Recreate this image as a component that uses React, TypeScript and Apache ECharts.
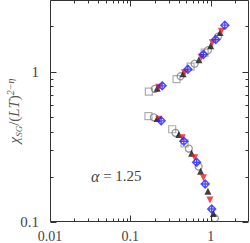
import React, { useEffect, useRef } from "react";
import * as echarts from "echarts";

// Tick values and labels
const xTicks = [0.01, 0.1, 1];
const xTickLabels = ["0.01", "0.1", "1"];
const yTicks = [0.1, 1];
const yTickLabels = ["0.1", "1"];
const minorMultipliers = [2, 3, 4, 5, 6, 7, 8, 9];

// Series data [x, y]
const squares: number[][] = [
  [0.170, 0.738], [0.376, 0.893], [0.562, 1.08], [0.841, 1.34],
  [0.168, 0.507], [0.332, 0.414], [0.473, 0.334],
];
const circles: number[][] = [
  [0.202, 0.769], [0.422, 0.933], [0.631, 1.13], [0.925, 1.39], [1.23, 1.71],
  [0.196, 0.497], [0.365, 0.392], [0.535, 0.308], [0.708, 0.234], [1.13, 0.106],
];
const triangles: number[][] = [
  [0.216, 0.775], [0.453, 0.970], [0.714, 1.20], [1.0, 1.49], [1.31, 1.82],
  [0.216, 0.489], [0.402, 0.382], [0.579, 0.287], [0.750, 0.218], [0.925, 0.160], [1.08, 0.114],
];
const invTriangles: number[][] = [
  [0.226, 0.787], [0.473, 0.985], [0.765, 1.25], [1.05, 1.56], [1.36, 1.86],
  [0.226, 0.482], [0.443, 0.364], [0.631, 0.268], [0.811, 0.197], [0.98, 0.140],
];
const diamonds: number[][] = [
  [0.249, 0.805], [0.520, 1.04], [0.811, 1.30], [1.155, 1.64], [1.50, 2.04],
  [0.242, 0.471], [0.464, 0.344], [0.668, 0.250], [0.854, 0.179], [1.03, 0.122],
];

const TEXT = "#444";
const NAMECOL = "#555";
const FONT = "'Liberation Serif', 'DejaVu Serif', serif";

function fmt(ticks: number[], labels: string[]) {
  return (v: number) => {
    for (let i = 0; i < ticks.length; i++) {
      if (Math.abs(Math.log10(v) - Math.log10(ticks[i])) < 1e-6) return labels[i];
    }
    return "";
  };
}

function allMinor(min: number, max: number) {
  const out: number[] = [];
  for (let e = Math.floor(Math.log10(min)); e <= Math.ceil(Math.log10(max)); e++) {
    for (const m of minorMultipliers) {
      const v = m * Math.pow(10, e);
      if (v > min && v < max) out.push(v);
    }
  }
  return out;
}

export default function App() {
  const ref = useRef<HTMLDivElement>(null);
  useEffect(() => {
    if (!ref.current) return;
    const chart = echarts.init(ref.current, null, { renderer: "svg" });
    const xMin = 0.01, xMax = 3, yMin = 0.1, yMax = 3;
    const xMinor = allMinor(xMin, xMax);
    const yMinor = allMinor(yMin, yMax);

    const renderTicks = (params: any, api: any) => {
      const cs = params.coordSys;
      const children: any[] = [];
      const st = { stroke: "#333", lineWidth: 1 };
      const L = Math.round(cs.x) + 0.5, R = Math.round(cs.x + cs.width) - 0.5;
      const T = Math.round(cs.y) + 0.5, B = Math.round(cs.y + cs.height) - 0.5;
      children.push({ type: "rect", shape: { x: L, y: T, width: R - L, height: B - T }, style: { fill: "none", stroke: "#333", lineWidth: 1 } });
      const addX = (v: number, len: number) => {
        const px = Math.round(api.coord([v, 1])[0]) + 0.5;
        children.push({ type: "line", shape: { x1: px, y1: B, x2: px, y2: B - len }, style: st });
        children.push({ type: "line", shape: { x1: px, y1: T, x2: px, y2: T + len }, style: st });
      };
      const addY = (v: number, len: number) => {
        const py = Math.round(api.coord([1, v])[1]) + 0.5;
        children.push({ type: "line", shape: { x1: L, y1: py, x2: L + len, y2: py }, style: st });
        children.push({ type: "line", shape: { x1: R, y1: py, x2: R - len, y2: py }, style: st });
      };
      xTicks.forEach((v) => addX(v, 6));
      xMinor.forEach((v) => addX(v, 3));
      yTicks.forEach((v) => addY(v, 6));
      yMinor.forEach((v) => addY(v, 3));
      return { type: "group", children };
    };

    chart.setOption({
      animation: false,
      grid: { left: 50, right: 1, top: 0, bottom: 21, containLabel: false, outerBoundsMode: "none" },
      xAxis: {
        type: "log", logBase: 10, min: xMin, max: xMax,
        axisLine: { show: false }, axisTick: { show: false }, splitLine: { show: false }, minorTick: { show: false },
        axisLabel: { formatter: fmt(xTicks, xTickLabels), color: TEXT, fontFamily: FONT, fontSize: 14, lineHeight: 14, margin: 7, showMinLabel: true, hideOverlap: false },
      },
      yAxis: {
        type: "log", logBase: 10, min: yMin, max: yMax,
        axisLine: { show: false }, axisTick: { show: false }, splitLine: { show: false }, minorTick: { show: false },
        axisLabel: { formatter: fmt(yTicks, yTickLabels), color: TEXT, fontFamily: FONT, fontSize: 15, margin: 11 },
      },
      graphic: [
        {
          type: "text", x: 14, y: 111, rotation: Math.PI / 2,
          style: {
            text: "{g|χ}{s|SG}{a|/(}{g|LT}{a|)}{p|2−η}",
            align: "center", verticalAlign: "middle",
            fill: NAMECOL, font: `15px ${FONT}`,
            rich: {
              g: { fontStyle: "italic", fontSize: 15, fontFamily: FONT, fill: NAMECOL, lineHeight: 18 },
              a: { fontSize: 15, fontFamily: FONT, fill: NAMECOL, lineHeight: 18 },
              s: { fontStyle: "italic", fontSize: 9, fontFamily: FONT, fill: NAMECOL, lineHeight: 9, verticalAlign: "bottom" },
              p: { fontStyle: "italic", fontSize: 10, fontFamily: FONT, fill: NAMECOL, lineHeight: 10, verticalAlign: "top" },
            },
          },
        },
        {
          type: "text", left: 91, top: 168,
          style: {
            text: "{g|α} = 1.25",
            fill: TEXT,
            font: `15px ${FONT}`,
            rich: { g: { fontStyle: "italic", fontSize: 16, fontFamily: FONT, fill: TEXT } },
          },
        },
      ],
      series: [
        { type: "custom", renderItem: renderTicks, data: [[1, 1]], silent: true, z: 10, clip: false },
        {
          type: "scatter", data: squares, symbol: "rect", symbolSize: 7,
          itemStyle: { color: "transparent", borderColor: "#9a9a9a", borderWidth: 1.2 }, z: 2,
        },
        {
          type: "scatter", data: circles, symbol: "circle", symbolSize: 7,
          itemStyle: { color: "transparent", borderColor: "#7a7a7a", borderWidth: 1.2 }, z: 3,
        },
        {
          type: "scatter", data: triangles, symbol: "triangle", symbolSize: 7,
          itemStyle: { color: "#111" }, z: 4,
        },
        {
          type: "scatter", data: invTriangles, symbol: "triangle", symbolRotate: 180, symbolSize: 7,
          itemStyle: { color: "#ee1c24" }, z: 5,
        },
        {
          type: "scatter", data: diamonds,
          symbol: "path://M0,-5L5,0L0,5L-5,0Z M0,-5L0,5 M-5,0L5,0", symbolSize: 8,
          itemStyle: { color: "transparent", borderColor: "#1f1fff", borderWidth: 1.4 }, z: 6,
        },
      ],
    });
    return () => chart.dispose();
  }, []);
  return <div ref={ref} style={{ position: "absolute", left: 0, top: 0, width: 250, height: 243 }} />;
}
